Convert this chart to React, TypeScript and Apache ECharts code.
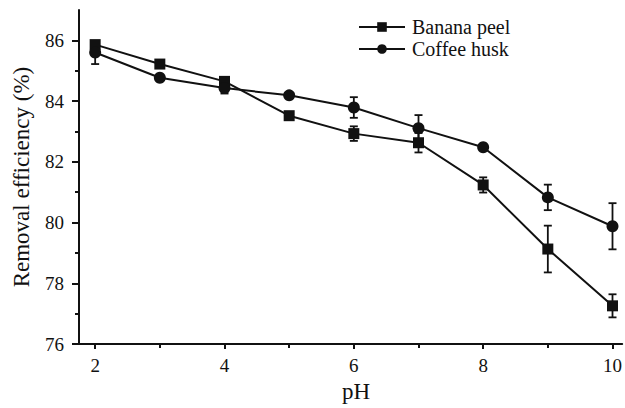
import React, { useEffect, useRef } from 'react';
import * as echarts from 'echarts';

const pH = [2, 3, 4, 5, 6, 7, 8, 9, 10];
const bananaPeel = [85.86, 85.22, 84.65, 83.52, 82.93, 82.63, 81.24, 79.13, 77.26];
const bananaErr = [0.08, 0.1, 0.12, 0.07, 0.24, 0.32, 0.25, 0.77, 0.38];
const coffeeHusk = [85.6, 84.77, 84.43, 84.19, 83.79, 83.11, 82.48, 80.83, 79.88];
const coffeeErr = [0.38, 0.07, 0.18, 0.07, 0.34, 0.43, 0.07, 0.42, 0.76];
const xMajorTicks = [2, 4, 6, 8, 10];
const xMinorTicks = [3, 5, 7, 9];
const yMajorTicks = [76, 78, 80, 82, 84, 86];
const yMinorTicks = [77, 79, 81, 83, 85];

const FONT = "'Liberation Serif', 'Times New Roman', serif";
const INK = '#111111';

function errorSeries(values: number[], errs: number[]) {
  return {
    type: 'custom',
    silent: true,
    z: 2,
    xAxisIndex: 0,
    yAxisIndex: 0,
    encode: { x: 0, y: 1 },
    data: pH.map((x, i) => [x, values[i], errs[i]]),
    renderItem: (_params: any, api: any) => {
      const x = api.value(0);
      const y = api.value(1);
      const e = api.value(2);
      const top = api.coord([x, y + e]);
      const bot = api.coord([x, y - e]);
      const hw = 4;
      const style = { stroke: INK, lineWidth: 1.8 };
      return {
        type: 'group',
        children: [
          { type: 'line', shape: { x1: top[0], y1: top[1], x2: bot[0], y2: bot[1] }, style },
          { type: 'line', shape: { x1: top[0] - hw, y1: top[1], x2: top[0] + hw, y2: top[1] }, style },
          { type: 'line', shape: { x1: bot[0] - hw, y1: bot[1], x2: bot[0] + hw, y2: bot[1] }, style },
        ],
      };
    },
  };
}

export default function App() {
  const ref = useRef<HTMLDivElement>(null);
  useEffect(() => {
    if (!ref.current) return;
    const chart = echarts.init(ref.current, null, { renderer: 'svg' });
    const axisLine = { show: true, lineStyle: { color: INK, width: 2 } };
    chart.setOption({
      animation: false,
      backgroundColor: '#ffffff',
      textStyle: { fontFamily: FONT },
      grid: { left: 79, right: 0, top: 10, bottom: 59, containLabel: false },
      legend: {
        orient: 'vertical',
        left: 353,
        top: 12,
        itemWidth: 46,
        itemHeight: 12,
        itemGap: 2,
        data: ['Banana peel', 'Coffee husk'],
        textStyle: { fontFamily: FONT, fontSize: 20, color: INK, padding: [0, 0, 0, 2] },
      },
      xAxis: [
        {
          type: 'value',
          min: 1.75,
          max: 10.15,
          name: 'pH',
          nameLocation: 'middle',
          nameGap: 34,
          nameTextStyle: { fontFamily: FONT, fontSize: 23, color: INK, padding: [0, 0, 0, 11] },
          axisLine,
          splitLine: { show: false },
          axisTick: { show: true, inside: false, length: 5, customValues: xMajorTicks, lineStyle: { color: INK, width: 2 } },
          axisLabel: { show: true, customValues: xMajorTicks, margin: 12, fontFamily: FONT, fontSize: 19, color: INK },
        },
        {
          type: 'value',
          min: 1.75,
          max: 10.15,
          position: 'bottom',
          axisLine: { show: false },
          splitLine: { show: false },
          axisTick: { show: true, inside: false, length: 4, customValues: xMinorTicks, lineStyle: { color: INK, width: 2 } },
          axisLabel: { show: false },
        },
      ],
      yAxis: [
        {
          type: 'value',
          min: 76,
          max: 87,
          name: 'Removal efficiency (%)',
          nameLocation: 'middle',
          nameGap: 46,
          nameTextStyle: { fontFamily: FONT, fontSize: 23, color: INK },
          axisLine,
          splitLine: { show: false },
          axisTick: { show: true, inside: false, length: 7, customValues: yMajorTicks, lineStyle: { color: INK, width: 2 } },
          axisLabel: { show: true, customValues: yMajorTicks, margin: 15, fontFamily: FONT, fontSize: 19, color: INK },
        },
        {
          type: 'value',
          min: 76,
          max: 87,
          position: 'left',
          axisLine: { show: false },
          splitLine: { show: false },
          axisTick: { show: true, inside: false, length: 4, customValues: yMinorTicks, lineStyle: { color: INK, width: 2 } },
          axisLabel: { show: false },
        },
      ],
      series: [
        errorSeries(bananaPeel, bananaErr),
        errorSeries(coffeeHusk, coffeeErr),
        {
          name: 'Banana peel',
          type: 'line',
          z: 3,
          xAxisIndex: 0,
          yAxisIndex: 0,
          data: pH.map((x, i) => [x, bananaPeel[i]]),
          symbol: 'rect',
          symbolSize: 11,
          lineStyle: { color: INK, width: 2 },
          itemStyle: { color: INK },
        },
        {
          name: 'Coffee husk',
          type: 'line',
          z: 3,
          xAxisIndex: 0,
          yAxisIndex: 0,
          data: pH.map((x, i) => [x, coffeeHusk[i]]),
          symbol: 'circle',
          symbolSize: 12,
          lineStyle: { color: INK, width: 2 },
          itemStyle: { color: INK },
        },
      ],
    });
    return () => chart.dispose();
  }, []);
  return <div ref={ref} style={{ position: 'absolute', left: 0, top: 0, width: 625, height: 408 }} />;
}
